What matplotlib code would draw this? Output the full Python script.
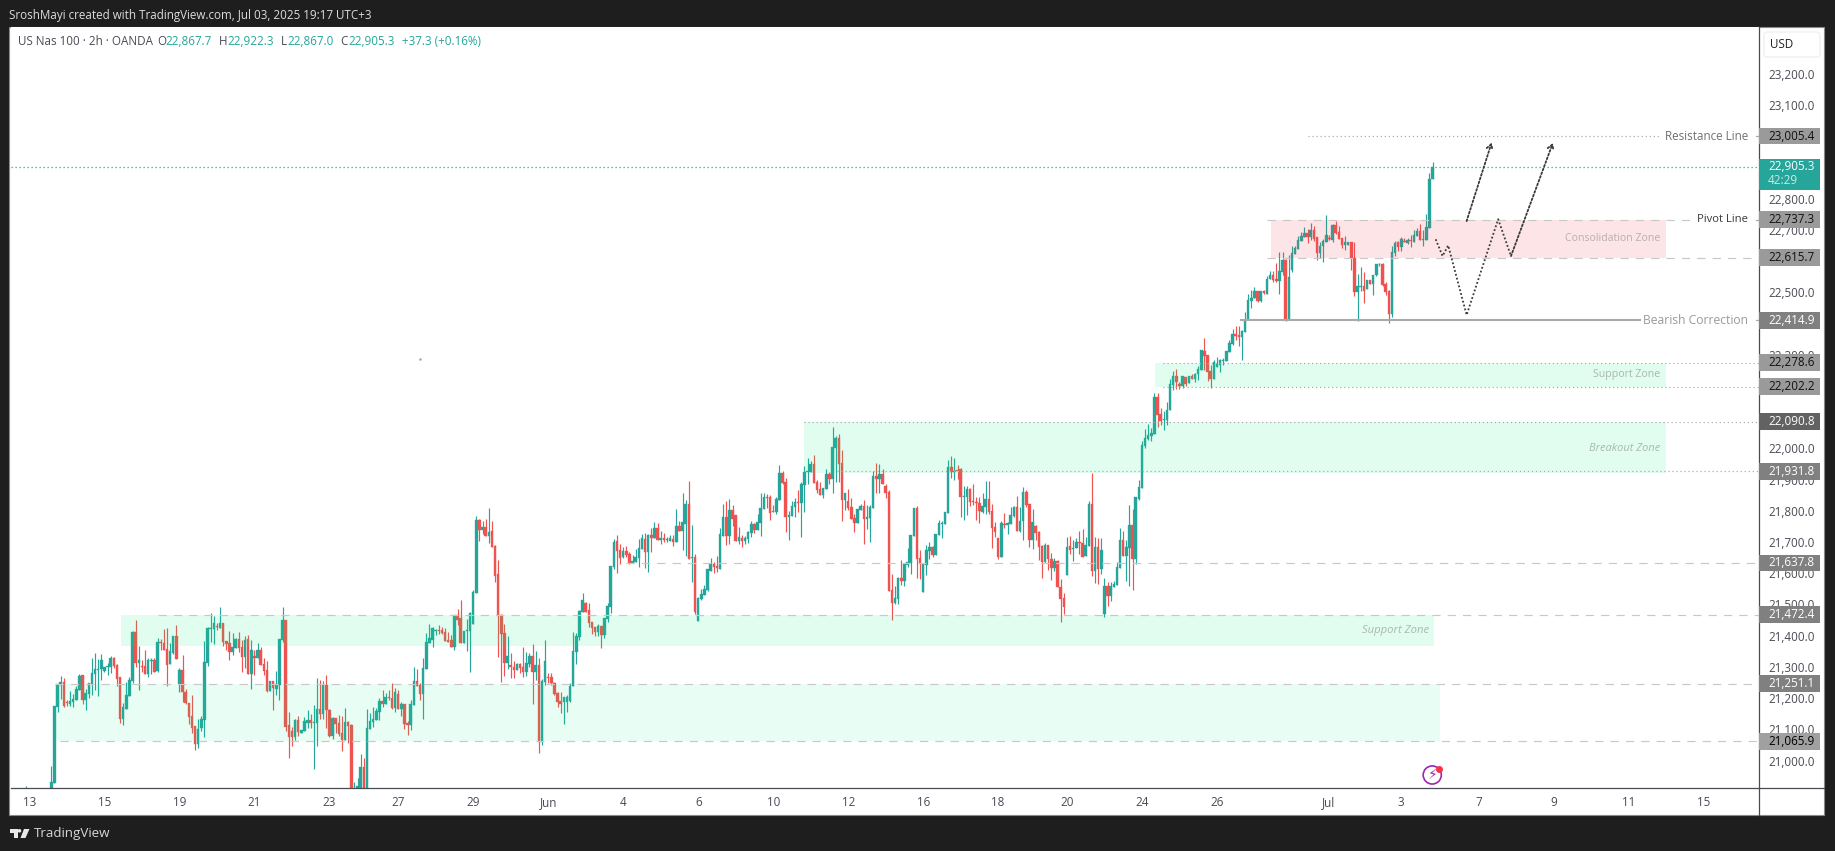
import numpy as np
import matplotlib
matplotlib.use("Agg")
import matplotlib.pyplot as plt
from matplotlib.patches import Rectangle, Polygon, Circle, FancyBboxPatch
from matplotlib.transforms import blended_transform_factory, ScaledTranslation

opens = [
20889,20934,21177,21248,21255,21191,21186,21193,21199,21232,
21279,21199,21219,21250,21282,21296,21297,21293,21305,21305,
21334,21311,21272,21138,21171,21211,21259,21416,21316,21308,
21308,21282,21324,21327,21292,21384,21382,21361,21314,21350,
21404,21250,21295,21226,21190,21147,21115,21058,21109,21135,
21318,21426,21426,21436,21430,21447,21387,21380,21352,21366,
21394,21368,21336,21394,21282,21340,21333,21359,21314,21295,
21227,21260,21234,
21247,21391,21455,21119,21099,21081,21135,21094,21100,21126,
21135,21125,21126,21170,21155,21247,21167,21083,21141,21124,
21093,21070,21128,21119,20870,20880,20900,20984,20890,21106,
21128,21135,21161,21195,21186,21208,21205,21173,21218,21170,
21186,21125,21119,21183,21260,21247,21218,21298,21381,21391,
21421,21423,21423,21417,21391,21391,21369,21471,21461,21381,
21420,21420,21442,21541,21775,21743,21753,21723,21740,21692,
21602,21471,21413,21317,
21311,21305,21295,21314,21303,21288,21314,21340,21288,21311,
21064,21258,21273,21272,21253,21220,21195,21192,21192,21195,
21244,21352,21400,21481,21510,21487,21449,21433,21417,21436,
21407,21458,21497,21625,21708,21679,21657,21676,21666,21638,
21641,21654,21682,21714,21673,21727,21718,21750,21711,21718,
21711,21708,21714,21705,21756,21740,21763,21827,21654,21657,
21452,21522,21535,21551,21612,21634,21628,21618,21724,21785,
21724,21807,21791,21708,
21719,21709,21715,21734,21763,21743,21766,21811,21849,21849,
21804,21801,21839,21926,21897,21785,21788,21817,21833,21830,
21887,21929,21929,21955,21897,21875,21855,21875,21923,21907,
22006,22038,21958,21839,21836,21817,21782,21766,21808,21820,
21779,21782,21814,21916,21907,21923,21884,21865,21551,21510,
21522,21590,21580,21631,21638,21724,21814,21654,21545,21631,
21676,21689,21663,21727,21763,21763,21798,21945,21929,21936,
21939,21849,21849,21875,21835,21833,21830,21801,21818,21843,
21804,21753,21718,21657,21763,21759,21763,21788,21817,21740,
21772,21865,21827,21711,21756,21737,21692,21641,21695,21650,
21622,21644,21561,21525,21599,21692,21682,21686,21705,21702,
21660,21692,21827,21612,21689,21618,21474,21564,21532,21561,
21567,21622,21711,21660,21686,21759,21651,21843,21878,22013,
22035,22044,22051,22168,22115,22096,22096,22128,22208,22237,
22210,22205,22234,22214,22237,22227,22243,22256,22317,22304,
22253,22227,22265,22272,22285,22285,22314,22339,22371,22368,
22362,22377,22416,22477,22487,22509,22477,22508,22500,22546,
22560,22547,22541,22570,22608,22420,22576,22627,22643,22669,
22682,22695,22682,22704,22682,22631,22653,22666,22679,22672,
22721,22698,22679,22656,22657,22666,22615,22506,22523,22525,
22515,22544,22531,22560,22595,22595,22531,22509,22435,22631,
22666,22650,22670,22663,22672,22666,22685,22701,22672,22672,22711,22867.7,
]
highs = [
20987,21179,21250,21275,21268,21199,21227,21218,21243,21282,
21279,21233,21252,21333,21348,21329,21345,21305,21316,21340,
21337,21314,21272,21188,21255,21271,21421,21455,21372,21327,
21358,21333,21332,21332,21399,21395,21426,21429,21380,21404,
21439,21301,21343,21234,21190,21215,21115,21137,21147,21388,
21434,21476,21468,21446,21496,21447,21387,21419,21412,21399,
21416,21391,21404,21407,21391,21359,21380,21369,21332,21324,
21260,21260,21293,
21394,21497,21455,21160,21113,21138,21147,21102,21143,21167,
21154,21183,21269,21263,21260,21279,21170,21144,21141,21151,
21148,21173,21131,21122,20936,20949,21026,21013,21170,21157,
21176,21173,21205,21231,21221,21231,21253,21236,21231,21192,
21186,21131,21199,21304,21298,21253,21333,21413,21442,21433,
21426,21439,21433,21429,21417,21407,21471,21490,21519,21420,
21458,21481,21551,21788,21779,21771,21779,21814,21772,21695,
21647,21474,21442,21404,
21348,21323,21316,21318,21369,21352,21348,21378,21356,21332,
21265,21391,21285,21285,21256,21223,21224,21208,21215,21253,
21418,21412,21487,21542,21514,21509,21449,21433,21442,21436,
21461,21509,21628,21714,21727,21698,21689,21692,21673,21663,
21682,21714,21730,21734,21730,21750,21769,21765,21740,21733,
21722,21727,21727,21811,21772,21862,21839,21900,21759,21667,
21529,21554,21567,21618,21654,21641,21660,21750,21827,21836,
21843,21823,21791,21753,
21727,21724,21739,21771,21767,21795,21862,21862,21859,21855,
21823,21849,21952,21932,21910,21804,21836,21846,21871,21897,
21948,21974,21964,21984,21904,21897,21878,21939,21929,22073,
22045,22051,21999,21862,21875,21846,21795,21811,21827,21839,
21823,21823,21932,21958,21955,21939,21891,21871,21602,21564,
21593,21647,21637,21686,21727,21814,21820,21679,21634,21695,
21705,21692,21731,21775,21772,21801,21968,21980,21974,21952,
21942,21884,21884,21878,21891,21850,21849,21862,21900,21900,
21827,21769,21718,21772,21798,21769,21817,21820,21852,21817,
21881,21872,21827,21811,21759,21740,21695,21702,21695,21670,
21654,21647,21586,21541,21721,21724,21711,21718,21740,21747,
21721,21836,21926,21721,21718,21718,21590,21577,21577,21580,
21641,21750,21740,21711,21824,21811,21849,21903,22029,22067,
22083,22070,22181,22181,22135,22125,22155,22228,22254,22259,
22217,22237,22234,22237,22243,22246,22269,22320,22358,22304,
22272,22288,22298,22291,22294,22317,22352,22387,22397,22397,
22384,22442,22499,22512,22522,22509,22508,22512,22558,22573,
22573,22598,22634,22634,22611,22624,22653,22653,22685,22698,
22714,22708,22727,22717,22682,22666,22676,22752,22688,22724,
22733,22717,22679,22685,22666,22666,22666,22563,22586,22570,
22544,22544,22560,22595,22600,22598,22538,22512,22653,22669,
22669,22682,22679,22679,22688,22704,22711,22724,22704,22756,22887,22922.3,
]
lows = [
20878,20934,21161,21202,21177,21179,21179,21177,21199,21232,
21187,21167,21204,21215,21231,21212,21263,21288,21279,21284,
21300,21243,21126,21119,21171,21211,21252,21305,21231,21289,
21282,21271,21282,21288,21288,21359,21359,21243,21314,21346,
21329,21225,21193,21186,21122,21092,21038,21046,21098,21081,
21309,21383,21378,21423,21430,21372,21359,21327,21343,21366,
21353,21288,21300,21282,21234,21279,21333,21311,21279,21224,
21227,21167,21215,
21199,21385,21099,21013,21051,21070,21083,21094,21100,21109,
21108,20979,21051,21138,21138,21109,21080,21074,21092,21083,
21035,21070,21061,20860,20830,20870,20890,20880,20880,21106,
21112,21135,21135,21176,21186,21199,21170,21160,21170,21147,
21106,21087,21103,21183,21244,21199,21138,21298,21381,21369,
21407,21410,21410,21388,21385,21369,21359,21439,21381,21381,
21356,21288,21442,21541,21708,21731,21723,21702,21689,21577,
21336,21256,21276,21298,
21269,21269,21295,21286,21273,21276,21305,21186,21263,21029,
21055,21248,21253,21247,21215,21175,21157,21122,21160,21192,
21244,21314,21391,21481,21481,21434,21410,21404,21404,21365,
21397,21449,21477,21618,21606,21636,21654,21657,21634,21638,
21641,21626,21682,21622,21609,21673,21718,21711,21698,21705,
21705,21708,21692,21705,21740,21679,21660,21650,21577,21474,
21452,21519,21535,21548,21612,21606,21609,21618,21724,21695,
21698,21756,21708,21698,
21690,21698,21701,21722,21734,21743,21724,21811,21814,21775,
21801,21795,21839,21891,21737,21711,21788,21785,21801,21721,
21801,21891,21929,21894,21862,21855,21846,21875,21891,21862,
21897,21897,21772,21807,21807,21779,21737,21766,21808,21699,
21747,21705,21814,21862,21862,21891,21846,21548,21455,21506,
21506,21567,21564,21625,21602,21724,21590,21586,21545,21599,
21650,21657,21663,21727,21718,21763,21798,21910,21903,21907,
21785,21775,21791,21821,21824,21775,21766,21798,21795,21795,
21686,21721,21650,21657,21750,21731,21763,21785,21740,21737,
21711,21817,21689,21683,21711,21647,21590,21641,21615,21583,
21612,21561,21449,21474,21599,21667,21644,21686,21667,21657,
21660,21692,21596,21574,21570,21602,21465,21500,21516,21561,
21567,21622,21660,21580,21564,21551,21635,21839,21878,22006,
22032,22028,22051,22073,22080,22064,22080,22128,22192,22195,
22195,22198,22205,22214,22227,22217,22224,22256,22256,22221,
22198,22227,22265,22250,22271,22285,22314,22336,22352,22333,
22288,22377,22416,22455,22487,22474,22475,22500,22500,22546,
22538,22538,22499,22560,22413,22418,22570,22627,22643,22669,
22682,22663,22672,22669,22608,22615,22602,22666,22672,22666,
22691,22676,22647,22640,22657,22576,22493,22413,22509,22470,
22515,22531,22496,22557,22590,22525,22496,22406,22426,22621,
22637,22637,22666,22660,22650,22666,22685,22672,22653,22672,22711,22867.0,
]
closes = [
20935,21179,21250,21255,21179,21188,21194,21202,21234,21275,
21199,21220,21252,21284,21297,21298,21326,21305,21308,21333,
21309,21266,21138,21176,21215,21263,21416,21316,21327,21305,
21282,21327,21327,21288,21384,21382,21359,21311,21357,21404,
21329,21296,21224,21188,21144,21109,21058,21105,21137,21320,
21429,21429,21447,21434,21447,21385,21377,21352,21368,21394,
21366,21336,21390,21282,21359,21333,21359,21311,21292,21227,
21260,21236,21251,
21394,21455,21112,21081,21081,21135,21095,21102,21131,21134,
21126,21127,21170,21155,21247,21167,21083,21141,21122,21090,
21070,21128,21115,20870,20880,20923,20984,20890,21109,21131,
21137,21163,21195,21186,21208,21205,21173,21224,21170,21186,
21122,21119,21186,21260,21244,21218,21301,21385,21397,21429,
21423,21421,21412,21388,21385,21369,21471,21455,21381,21420,
21423,21478,21544,21775,21743,21753,21723,21737,21689,21596,
21467,21410,21317,21340,
21306,21295,21314,21301,21288,21316,21340,21288,21311,21064,
21260,21324,21269,21253,21218,21192,21186,21208,21208,21244,
21356,21404,21484,21519,21481,21447,21429,21417,21436,21407,
21461,21500,21628,21705,21676,21654,21676,21663,21638,21644,
21657,21686,21718,21673,21727,21718,21750,21711,21718,21711,
21716,21718,21705,21756,21740,21769,21827,21650,21657,21481,
21526,21538,21554,21618,21634,21625,21622,21730,21785,21724,
21807,21779,21708,21721,
21709,21718,21737,21763,21743,21769,21814,21849,21846,21798,
21801,21843,21926,21894,21785,21791,21820,21833,21830,21891,
21929,21932,21955,21894,21871,21855,21878,21923,21907,22009,
22038,21955,21839,21862,21814,21779,21766,21811,21820,21779,
21785,21817,21916,21907,21923,21891,21862,21548,21510,21526,
21590,21580,21634,21641,21727,21814,21650,21634,21634,21679,
21689,21663,21731,21766,21766,21801,21945,21929,21932,21933,
21849,21852,21875,21834,21833,21831,21804,21820,21843,21801,
21750,21737,21657,21766,21760,21766,21792,21817,21740,21772,
21865,21824,21711,21769,21734,21689,21641,21695,21650,21622,
21644,21561,21522,21497,21689,21679,21686,21705,21702,21657,
21695,21827,21612,21689,21618,21679,21564,21532,21564,21570,
21625,21711,21660,21689,21759,21651,21849,21881,22016,22038,
22048,22054,22170,22113,22093,22099,22128,22211,22237,22219,
22206,22237,22211,22237,22228,22243,22259,22320,22301,22250,
22227,22282,22275,22288,22288,22317,22342,22371,22366,22362,
22381,22416,22480,22487,22509,22477,22508,22502,22547,22560,
22544,22540,22573,22608,22419,22554,22630,22647,22672,22685,
22695,22682,22704,22676,22631,22653,22669,22688,22676,22721,
22695,22676,22656,22666,22666,22615,22506,22525,22525,22509,
22544,22531,22560,22595,22597,22528,22506,22435,22634,22663,
22650,22676,22667,22672,22670,22688,22701,22672,22676,22714,22868,22905.3,
]

date_labels = ["13","15","19","21","23","27","29","Jun","4","6","10","12","16","18","20","24","26","Jul","3","7","9","11","15"]
date_bars = [-5.9,18,42,66,90,112,136,160,184,208,232,256,280,304,326,350,374,409.7,432.7,457.7,481.8,505.8,529.8]
price_ticks = [21000,21100,21200,21300,21400,21500,21600,21700,21800,21900,22000,22300,22500,22700,22800,23100,23200]
last_price = 22905.3

level_prices = [23005.4,22737.3,22615.7,22414.9,22278.6,22202.2,22090.8,21931.8,21637.8,21472.4,21251.1,21065.9]
level_boxes = ["#9a9a9a","#9a9a9a","#9a9a9a","#808080","#9a9a9a","#9a9a9a","#626262","#808080","#808080","#808080","#808080","#a0a0a0"]
level_text = ["#111111","#111111","#111111","#ffffff","#111111","#111111","#ffffff","#ffffff","#ffffff","#ffffff","#ffffff","#000000"]

zone_start = [2.2,23.3,242,354.2,391.2]
zone_end = [445.5,443.6,517.7,517.7,517.7]
zone_top = [21251.1,21472.4,22090.8,22278.6,22737.3]
zone_bottom = [21065.9,21373,21926,22202.2,22615.7]
zone_color = ["#00f080","#00f080","#00f080","#00f080","#f23645"]
zone_alpha = [0.09,0.12,0.12,0.12,0.125]

line_price = [21251.1,21065.9,21472.4,21637.8,22090.8,21931.8,22278.6,22202.2,22737.3,22615.7,23005.4]
line_start = [2.2,3.8,35.1,184.9,242,252.4,356.7,356.7,390,390,403]
line_end = [545.7,547.6,547.6,547.6,547.6,547.6,547.6,547.6,525.4,547.6,515.8]
line_dash = ["d","d","d","d","o","o","o","o","d","d","o"]

path_bars = [444,446.2,448,453.9,464,468.1,481.5]
path_prices = [22674.6,22621,22655,22432,22739,22621,22983]
arrow_bars = [453.9,461.9]
arrow_prices = [22733,22984]

W, H = 1835, 851
L_PX, R_PX, T_PX, B_PX = 10.7, 1759.3, 27, 788
TEAL, RED, AXC = "#26a69a", "#ef5350", "#4a4a55"
plt.rcParams["font.family"] = "Open Sans"

fig = plt.figure(figsize=(W/100, H/100), dpi=100, facecolor="#1e1e1e")
def fx(p): return p/W
def fy(p): return 1-p/H

fig.add_artist(Rectangle((fx(9), fy(815)), fx(1824-9), (815-26.5)/H, transform=fig.transFigure,
                         facecolor="white", edgecolor="#8a8a8a", lw=0.8, zorder=-5))
ax = fig.add_axes([fx(L_PX), fy(B_PX), (R_PX-L_PX)/W, (B_PX-T_PX)/H], facecolor="white")
ax.set_xlim(-12, 547.56)
ax.set_ylim(20916.9, 23354.7)

o, h, l, c = map(np.array, (opens, highs, lows, closes))
x = np.arange(1, len(c)+1)
colors = [TEAL if ci >= oi else RED for oi, ci in zip(o, c)]
ax.vlines(x, l, h, colors=colors, lw=0.85, zorder=2)
ax.vlines([-7.1], [20800], [20923], colors=TEAL, lw=0.85, zorder=2)
ax.bar(x, np.abs(c-o), bottom=np.minimum(o, c), width=0.82, color=colors, edgecolor=colors, lw=0.25, zorder=2.2)

for s, e, t, b, col, a in zip(zone_start, zone_end, zone_top, zone_bottom, zone_color, zone_alpha):
    ax.add_patch(Rectangle((s, b), e-s, t-b, facecolor=col, alpha=a, edgecolor="none", zorder=3))

for p, s, e, d in zip(line_price, line_start, line_end, line_dash):
    if d == "d":
        ax.plot([s, e], [p, p], color="#c8c8c8", lw=0.85, ls=(0, (7, 6)), zorder=3.1)
    else:
        ax.plot([s, e], [p, p], color="#a8a8a8", lw=0.85, ls=(0, (1, 2.4)), zorder=3.1)
ax.plot([381.7, 509.4], [22414.9, 22414.9], color="#a9a9a9", lw=1.5, zorder=3.1)
for p in (23005.4, 22737.3, 22414.9):
    ax.plot([546.5, 547.56], [p, p], color="#a9a9a9", lw=0.9, zorder=3.1)
ax.plot([-12, 547.56], [last_price, last_price], color=TEAL, lw=0.9, ls=(0, (1, 2.2)), zorder=3.2)

DOTS = (0, (1, 1.2))
ax.plot(path_bars[:-1], path_prices[:-1], color="#3a3a3a", lw=1.3, ls=DOTS, zorder=3.3)
for bars, prices in ((path_bars[-2:], path_prices[-2:]), (arrow_bars, arrow_prices)):
    ax.annotate("", xy=(bars[1], prices[1]), xytext=(bars[0], prices[0]),
                arrowprops=dict(arrowstyle="->,head_length=0.35,head_width=0.22", ls=DOTS, lw=1.3,
                                color="#3a3a3a", shrinkA=0, shrinkB=0), zorder=3.3)

ax.text(515.8, 22675.6, "Consolidation Zone", ha="right", va="center", fontsize=7.6, color="#b8aeae", zorder=4)
ax.text(515.8, 22240, "Support Zone", ha="right", va="center", fontsize=7.6, color="#a9b8ae", zorder=4)
ax.text(515.8, 22006, "Breakout Zone", ha="right", va="center", fontsize=7.9, style="italic", color="#a9b8ae", zorder=4)
ax.text(441.8, 21423, "Support Zone", ha="right", va="center", fontsize=8.1, style="italic", color="#a9b8ae", zorder=4)
ax.text(543.9, 23005.4, "Resistance Line", ha="right", va="center", fontsize=8.4, color="#707070", zorder=4)
ax.text(543.9, 22737.3, "Pivot Line", ha="right", va="center", fontsize=8.1, color="#3a3a3a", zorder=4)
ax.text(543.9, 22414.9, "Bearish Correction", ha="right", va="center", fontsize=8.7, color="#9a9a9a", zorder=4)

ax.scatter([119], [22292], s=0.7, color="#aaaaaa", zorder=2)
ax.scatter([442.9], [20958.6], s=170, facecolor="none", edgecolor="#9c27b0", lw=1.2, zorder=4)
ax.text(442.9, 20958.6, "\u26a1", family="DejaVu Sans", fontsize=10, color="#9c27b0", ha="center", va="center", zorder=4)
ax.scatter([445.2], [20978], s=16, color="#f23645", zorder=4.1)

ax.yaxis.tick_right()
ax.set_yticks(price_ticks)
ax.set_yticklabels([f"{p:,.1f}" for p in price_ticks])
ax.tick_params(axis="y", length=0, pad=6.3, labelsize=8.4, labelcolor=AXC)
lift = ScaledTranslation(0, 0.015, fig.dpi_scale_trans)
for lbl in ax.get_yticklabels():
    lbl.set_transform(lbl.get_transform() + lift)
ax.set_xticks(date_bars)
ax.set_xticklabels(date_labels)
ax.tick_params(axis="x", length=0, pad=5.6, labelsize=8.4, labelcolor=AXC)
for side in ("left", "top"):
    ax.spines[side].set_visible(False)
for side in ("right", "bottom"):
    ax.spines[side].set_color(AXC)
    ax.spines[side].set_linewidth(0.9)

tr = blended_transform_factory(ax.transAxes, ax.transData)
bw = (1820-R_PX)/(R_PX-L_PX)
tx = (1768-R_PX)/(R_PX-L_PX)
for p, bc, tc in zip(level_prices, level_boxes, level_text):
    ax.add_patch(Rectangle((1.0, p-27), bw, 54, transform=tr, facecolor=bc, edgecolor="none", zorder=5, clip_on=False))
    ax.text(1+tx, p, f"{p:,.1f}", transform=tr, ha="left", va="center", fontsize=8.4, color=tc, zorder=6, clip_on=False)
ax.add_patch(Rectangle((1.0, 22832.6), bw, 99.4, transform=tr, facecolor=TEAL, edgecolor="none", zorder=5, clip_on=False))
ax.text(1+tx, last_price+1, f"{last_price:,.1f}", transform=tr, ha="left", va="center", fontsize=8.4, color="white", zorder=6, clip_on=False)
ax.text(1+tx, 22862, "42:29", transform=tr, ha="left", va="center", fontsize=8.4, color="#c9e9e4", zorder=6, clip_on=False)

fig.add_artist(plt.Line2D([fx(R_PX)]*2, [fy(788), fy(815)], color=AXC, lw=0.9))
fig.add_artist(plt.Line2D([fx(R_PX), fx(1824)], [fy(788)]*2, color=AXC, lw=0.9))
fig.add_artist(FancyBboxPatch((1764, H-57), 56, 25, boxstyle="round,pad=0,rounding_size=3", transform=None,
                              facecolor="white", edgecolor="#f0f0f0", lw=1))
fig.text(fx(1782), fy(44.5), "USD", ha="center", va="center", fontsize=8.4, color="#222222")

fig.text(fx(9), fy(15), "SroshMayi created with TradingView.com, Jul 03, 2025 19:17 UTC+3",
         ha="left", va="center", fontsize=8.4, color="#dcdcdc")
fig.text(fx(18), fy(41.5), "US Nas 100 \u00b7 2h \u00b7 OANDA", ha="left", va="center", fontsize=8.4, color=AXC)
for xp, s, col in [(157, "O", AXC), (165, "22,867.7", TEAL), (219, "H", AXC), (227, "22,922.3", TEAL),
                   (281, "L", AXC), (287, "22,867.0", TEAL), (340, "C", AXC), (348, "22,905.3", TEAL),
                   (402, "+37.3 (+0.16%)", TEAL)]:
    fig.text(fx(xp), fy(41.5), s, ha="left", va="center", fontsize=8.4, color=col)

fig.add_artist(Polygon([(fx(10), fy(829)), (fx(18), fy(829)), (fx(18), fy(838)), (fx(14), fy(838)), (fx(14), fy(832.5)), (fx(10), fy(832.5))],
                       transform=fig.transFigure, facecolor="#e8e8e8", edgecolor="none"))
fig.add_artist(Circle((19.5, H-830.8), 1.8, transform=None, facecolor="#e8e8e8", edgecolor="none"))
fig.add_artist(Polygon([(fx(24), fy(829)), (fx(29.5), fy(829)), (fx(25.5), fy(838)), (fx(20.5), fy(838))],
                       transform=fig.transFigure, facecolor="#e8e8e8", edgecolor="none"))
fig.text(fx(33.5), fy(833.5), "TradingView", ha="left", va="center", fontsize=9.6, color="#d8d8d8")

fig.savefig("out.png", dpi=100, facecolor=fig.get_facecolor())
